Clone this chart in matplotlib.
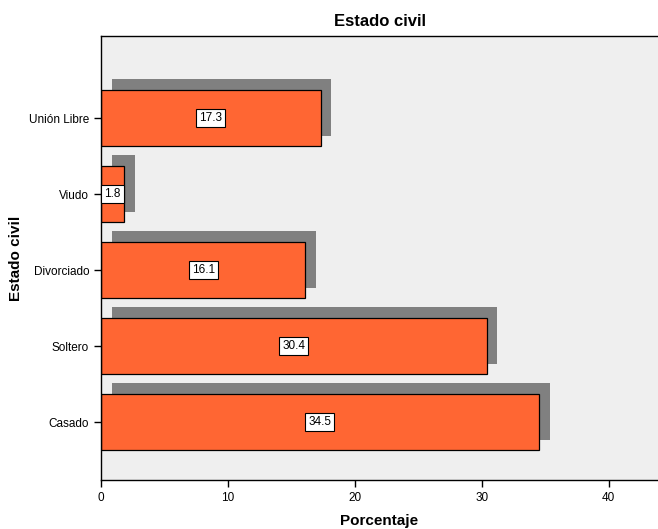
import matplotlib

matplotlib.use("Agg")
import matplotlib.pyplot as plt
import numpy as np

categories = ["Casado", "Soltero", "Divorciado", "Viudo", "Unión Libre"]
percent = [34.5, 30.4, 16.1, 1.8, 17.3]
xticks = [0, 10, 20, 30, 40]

plt.rcParams["font.family"] = ["Liberation Sans", "DejaVu Sans"]

fig = plt.figure(figsize=(6.58, 5.29), dpi=100)
ax = fig.add_axes([101 / 658, 49 / 529, 557 / 658, 444 / 529])
ax.set_facecolor("#efefef")

y = np.arange(len(categories))
h = 0.74
# drop shadow behind each bar
ax.barh(y + 0.14, percent, height=h, left=0.85, color="#808080", zorder=1)
ax.barh(y, percent, height=h, color="#ff6633", edgecolor="black",
        linewidth=0.9, zorder=2)

for yi, v in zip(y, percent):
    ax.text(v / 2, yi, f"{v:.1f}", ha="center", va="center", fontsize=8.5,
            zorder=3,
            bbox=dict(boxstyle="square,pad=0.25", fc="white", ec="black", lw=0.8))

ax.set_xlim(0, 43.9)
ax.set_ylim(-0.76, 4 + 1.08)
ax.set_xticks(xticks)
ax.set_yticks(y)
ax.set_yticklabels(categories)
ax.tick_params(labelsize=8.5, length=5, width=1, color="black")
ax.spines["right"].set_visible(False)
for s in ("left", "top", "bottom"):
    ax.spines[s].set_linewidth(1.0)

ax.set_title("Estado civil", fontsize=12, fontweight="bold", pad=7)
ax.set_xlabel("Porcentaje", fontsize=11, fontweight="bold", labelpad=7)
ax.set_ylabel("Estado civil", fontsize=11, fontweight="bold", labelpad=4)

fig.savefig("out.png", dpi=100)
